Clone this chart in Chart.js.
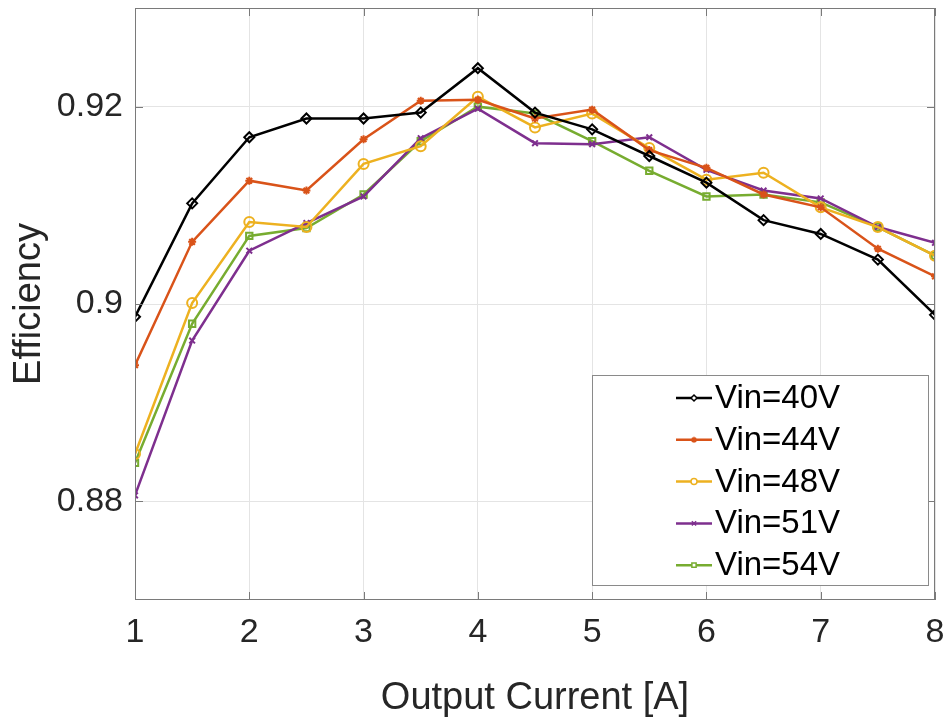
<!DOCTYPE html>
<html>
<head>
<meta charset="utf-8">
<script src="https://cdn.jsdelivr.net/npm/chart.js@4/dist/chart.umd.min.js"></script>
<style>
  html, body { margin: 0; padding: 0; background: #fff; }
</style>
</head>
<body>
<canvas id="effChart" width="952" height="725"></canvas>
<script>
"use strict";

// output current [A]
const currents = [1, 1.5, 2, 2.5, 3, 3.5, 4, 4.5, 5, 5.5, 6, 6.5, 7, 7.5, 8];

const vin40 = [0.8987, 0.9102, 0.9169, 0.9188, 0.9188, 0.9194, 0.9239, 0.9194, 0.9177, 0.9150, 0.9123, 0.9085, 0.9071, 0.9045, 0.8989];
const vin44 = [0.8938, 0.9063, 0.9125, 0.9115, 0.9167, 0.9206, 0.9207, 0.9188, 0.9197, 0.9156, 0.9138, 0.9111, 0.9098, 0.9056, 0.9028];
const vin48 = [0.8848, 0.9001, 0.9083, 0.9078, 0.9142, 0.9160, 0.9210, 0.9179, 0.9193, 0.9158, 0.9126, 0.9133, 0.9098, 0.9078, 0.9049];
const vin51 = [0.8806, 0.8963, 0.9054, 0.9082, 0.9109, 0.9168, 0.9198, 0.9163, 0.9162, 0.9169, 0.9136, 0.9115, 0.9107, 0.9078, 0.9062];
const vin54 = [0.8839, 0.8980, 0.9069, 0.9077, 0.9111, 0.9165, 0.9200, 0.9193, 0.9165, 0.9135, 0.9109, 0.9111, 0.9103, 0.9078, 0.9049];

const seriesLabels = ['Vin=40V', 'Vin=44V', 'Vin=48V', 'Vin=51V', 'Vin=54V'];
const xTicks = [1, 2, 3, 4, 5, 6, 7, 8];
const yTicks = [0.88, 0.9, 0.92];

const FONT = '"Liberation Sans", Arial, Helvetica, sans-serif';
const frameColor = '#7a7a7a';

const makeSet = (label, values, color, style, radius) => {
  return {
    label: label,
    data: values.map((v, i) => ({ x: currents[i], y: v })),
    borderColor: color,
    backgroundColor: 'rgba(255,255,255,0)',
    pointBorderColor: color,
    pointBackgroundColor: 'rgba(255,255,255,0)',
    pointStyle: style,
    pointRadius: radius,
    pointBorderWidth: 2,
    borderWidth: 2.5,
    tension: 0
  };
};

// no extra room for the edge labels, the plot box is fixed
const fixScale = (size) => (scale) => {
  if (scale.isHorizontal()) scale.height = size;
  else scale.width = size;
  scale.paddingTop = 0;
  scale.paddingBottom = 0;
  scale.paddingLeft = 0;
  scale.paddingRight = 0;
};

// box around the axes with inward tick marks
const framePlugin = {
  id: 'frame',
  afterDatasetsDraw(chart) {
    const ctx = chart.ctx;
    const a = chart.chartArea;
    const xs = chart.scales.x;
    const ys = chart.scales.y;
    ctx.save();
    ctx.strokeStyle = frameColor;
    ctx.lineWidth = 1;
    ctx.strokeRect(a.left + 0.5, a.top + 0.5, a.right - a.left - 1, a.bottom - a.top - 1);
    ctx.beginPath();
    xTicks.forEach(t => {
      const px = Math.round(xs.getPixelForValue(t)) + 0.5;
      ctx.moveTo(px, a.bottom); ctx.lineTo(px, a.bottom - 8);
      ctx.moveTo(px, a.top); ctx.lineTo(px, a.top + 8);
    });
    yTicks.forEach(t => {
      const py = Math.round(ys.getPixelForValue(t)) + 0.5;
      ctx.moveTo(a.left, py); ctx.lineTo(a.left + 8, py);
      ctx.moveTo(a.right, py); ctx.lineTo(a.right - 8, py);
    });
    ctx.stroke();
    ctx.restore();
  }
};

// legend box in the lower right of the plot
const legendPlugin = {
  id: 'boxLegend',
  afterDraw(chart) {
    const ctx = chart.ctx;
    const left = 592, top = 375, w = 336, h = 210;
    ctx.save();
    ctx.fillStyle = '#fff';
    ctx.fillRect(left, top, w, h);
    ctx.strokeStyle = '#8a8a8a';
    ctx.lineWidth = 1;
    ctx.strokeRect(left + 0.5, top + 0.5, w, h);
    chart.data.datasets.forEach((ds, i) => {
      const y = 398 + i * 41.8;
      ctx.strokeStyle = ds.borderColor;
      ctx.lineWidth = 2.5;
      ctx.beginPath();
      ctx.moveTo(676, y);
      ctx.lineTo(712, y);
      ctx.stroke();
      ctx.lineWidth = 1.5;
      ctx.fillStyle = '#fff';
      Chart.helpers.drawPoint(ctx, {
        pointStyle: ds.pointStyle,
        radius: 3,
        borderWidth: 1.5,
        rotation: 0
      }, 694, y);
      ctx.fillStyle = '#000';
      ctx.font = '33px ' + FONT;
      ctx.textAlign = 'left';
      ctx.textBaseline = 'middle';
      ctx.fillText(ds.label, 715, y + 1);
    });
    ctx.restore();
  }
};

const ctx = document.getElementById('effChart').getContext('2d');
const effChart = new Chart(ctx, {
  type: 'line',
  data: {
    datasets: [
      makeSet(seriesLabels[0], vin40, '#000000', 'rectRot', 5),
      makeSet(seriesLabels[1], vin44, '#D95319', 'star', 4),
      makeSet(seriesLabels[2], vin48, '#EDB120', 'circle', 5),
      makeSet(seriesLabels[3], vin51, '#7E2F8E', 'crossRot', 4),
      makeSet(seriesLabels[4], vin54, '#77AC30', 'rect', 4.5)
    ]
  },
  options: {
    responsive: false,
    animation: false,
    layout: { padding: { left: 0, top: 8, right: 17, bottom: 0 } },
    plugins: {
      legend: { display: false },
      tooltip: { enabled: false }
    },
    scales: {
      x: {
        type: 'linear',
        min: 1,
        max: 8,
        afterBuildTicks: (scale) => { scale.ticks = xTicks.map(v => ({ value: v })); },
        afterFit: fixScale(125),
        grid: { color: '#e4e4e4', drawTicks: false },
        border: { display: false },
        ticks: {
          padding: 12,
          color: '#262626',
          font: { family: FONT, size: 34 },
          maxRotation: 0,
          callback: (v) => String(v)
        },
        title: {
          display: true,
          text: 'Output Current [A]',
          color: '#262626',
          font: { family: FONT, size: 38 },
          padding: { top: 0, bottom: 4 }
        }
      },
      y: {
        type: 'linear',
        min: 0.87,
        max: 0.93,
        afterBuildTicks: (scale) => { scale.ticks = yTicks.map(v => ({ value: v })); },
        afterFit: fixScale(135),
        grid: { color: '#e4e4e4', drawTicks: false },
        border: { display: false },
        ticks: {
          padding: 12,
          color: '#262626',
          font: { family: FONT, size: 34 },
          callback: (v) => String(v)
        },
        title: {
          display: true,
          text: 'Efficiency',
          color: '#262626',
          font: { family: FONT, size: 38 },
          padding: { top: 7, bottom: 0 }
        }
      }
    }
  },
  plugins: [framePlugin, legendPlugin]
});
</script>
</body>
</html>
